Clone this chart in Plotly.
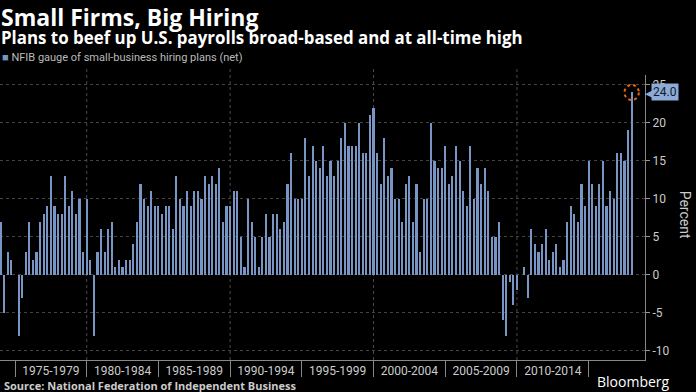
import pandas as pd
import plotly.graph_objects as go

# ---- data ----
quarters = pd.period_range("1974Q1", "2018Q1", freq="Q")
hiring_plans = [
    7, -5, 3, 2, 0, -8, -3, 3, 7, 2, 3, 7, 8, 9, 13, 9, 8, 8, 13, 9,
    11, 8, 10, 3, 10, 2, -8, 3, 6, 3, 6, 7, 1, 2, 1, 2, 2, 4, 7, 12,
    10, 9, 11, 9, 9, 8, 9, 9, 6, 13, 10, 9, 11, 9, 11, 11, 10, 13, 12, 13,
    12, 14, 7, 9, 9, 11, 11, 5, 1, 10, 7, 5, 1, 5, 8, 5, 8, 8, 6, 7,
    12, 16, 10, 10, 10, 18, 13, 17, 15, 14, 17, 13, 15, 13, 15, 18, 20, 17, 17, 17,
    20, 16, 16, 21, 22, 16, 12, 18, 13, 14, 10, 10, 7, 12, 13, 7, 12, 3, 10, 10,
    20, 15, 14, 14, 17, 12, 13, 17, 15, 11, 9, 17, 10, 14, 12, 14, 11, 5, 5, 7,
    -6, -8, -1, -4, -2, 0, 1, -3, 6, 4, 3, 4, 6, 2, 3, 4, 1, 2, 7, 9,
    8, 7, 12, 9, 15, 12, 9, 12, 15, 9, 11, 10, 16, 16, 15, 19, 24,
]
period_starts = [1975, 1980, 1985, 1990, 1995, 2000, 2005, 2010, 2015]
period_labels = ["1975-1979", "1980-1984", "1985-1989", "1990-1994",
                 "1995-1999", "2000-2004", "2005-2009", "2010-2014"]
grid_years = [1980, 1990, 2000, 2010]
y_ticks = [-10, -5, 0, 5, 10, 15, 20, 25]

x_vals = [q.year + (q.quarter - 1) / 4 for q in quarters]
label_mid = [s + 2.5 for s in period_starts[:-1]]

BAR = "#7895c4"
FONT = "Roboto"
HEAD = "Open Sans"

fig = go.Figure()
fig.add_trace(go.Bar(x=x_vals, y=hiring_plans, width=0.15,
                     marker=dict(color=BAR, line=dict(width=0)),
                     showlegend=False, hoverinfo="x+y"))

last_x, last_y = x_vals[-1], hiring_plans[-1]

shapes = []
for g in grid_years:
    shapes.append(dict(type="line", xref="x", yref="paper", x0=g, x1=g, y0=0, y1=1.03,
                       line=dict(color="#4a4a4a", width=1, dash="dot"), layer="below"))
shapes.append(dict(type="circle", xref="x", yref="y",
                   x0=last_x - 0.5, x1=last_x + 0.5, y0=last_y - 1.0, y1=last_y + 1.0,
                   line=dict(color="#e8650f", width=2, dash="dot")))

annotations = [
    dict(text="<b>Small Firms, Big Hiring</b>", xref="paper", yref="paper", x=0, y=1.263,
         xanchor="left", yanchor="top", showarrow=False, borderpad=0,
         font=dict(family=HEAD, size=23, color="#ffffff")),
    dict(text="<b>Plans to beef up U.S. payrolls broad-based and at all-time high</b>",
         xref="paper", yref="paper", x=0, y=1.132, xanchor="left", yanchor="middle",
         showarrow=False, borderpad=0, font=dict(family=HEAD, size=16.9, color="#ffffff")),
    dict(text="<span style='color:%s'>■</span> NFIB gauge of small-business hiring plans (net)" % BAR,
         xref="paper", yref="paper", x=0, y=1.06, xanchor="left", yanchor="middle",
         showarrow=False, font=dict(family=FONT, size=11, color="#bbbbbb")),
    dict(text="<b>Source: National Federation of Independent Business</b>",
         xref="paper", yref="paper", x=0.003, y=-0.088, xanchor="left", yanchor="middle",
         showarrow=False, font=dict(family=HEAD, size=11, color="#cccccc")),
    dict(text="Bloomberg", xref="paper", yref="paper", x=1.042, y=-0.076,
         xanchor="right", yanchor="middle", showarrow=False,
         font=dict(family=HEAD, size=14, color="#ffffff")),
    dict(text="Percent", xref="paper", yref="paper", x=1.062, y=0.51, textangle=90,
         xanchor="center", yanchor="middle", showarrow=False,
         font=dict(family=FONT, size=14, color="#cccccc")),
    dict(text="◀", xref="paper", yref="y", x=1, y=last_y, xanchor="left", yanchor="middle",
         xshift=-2, showarrow=False, font=dict(size=11, color="#8eaad6")),
    dict(text="%.1f" % last_y, xref="paper", yref="y", x=1, y=last_y, xanchor="left",
         yanchor="middle", xshift=6, showarrow=False, bgcolor="#8eaad6", borderpad=1,
         font=dict(family=FONT, size=12, color="#0d1a2c")),
]

fig.update_layout(
    width=696, height=392,
    margin=dict(l=0, r=51, t=75, b=32),
    paper_bgcolor="#000000", plot_bgcolor="#000000",
    bargap=0, shapes=shapes, annotations=annotations,
    xaxis=dict(range=[1973.954, 2018.93], tickmode="array", tickvals=label_mid,
               ticktext=period_labels, ticks="", showgrid=False, zeroline=False,
               showline=True, linecolor="#888888", linewidth=1,
               tickfont=dict(family=FONT, size=12, color="#cccccc"),
               minor=dict(tickmode="array", tickvals=period_starts, ticks="outside",
                          ticklen=16, tickcolor="#888888", tickwidth=1, showgrid=False)),
    yaxis=dict(range=[-11.2, 26.3], side="right", tickmode="array", tickvals=y_ticks,
               ticktext=[str(v) for v in y_ticks], ticks="outside", ticklen=4,
               tickcolor="#999999", showline=True, linecolor="#888888", linewidth=1,
               showgrid=True, gridcolor="#444444", griddash="dot", gridwidth=1,
               zeroline=False, tickfont=dict(family=FONT, size=12, color="#cccccc")),
)

fig.write_html("out.html", config={"displayModeBar": False},
               post_script="document.body.style.margin='0px';document.body.style.background='#000';")
